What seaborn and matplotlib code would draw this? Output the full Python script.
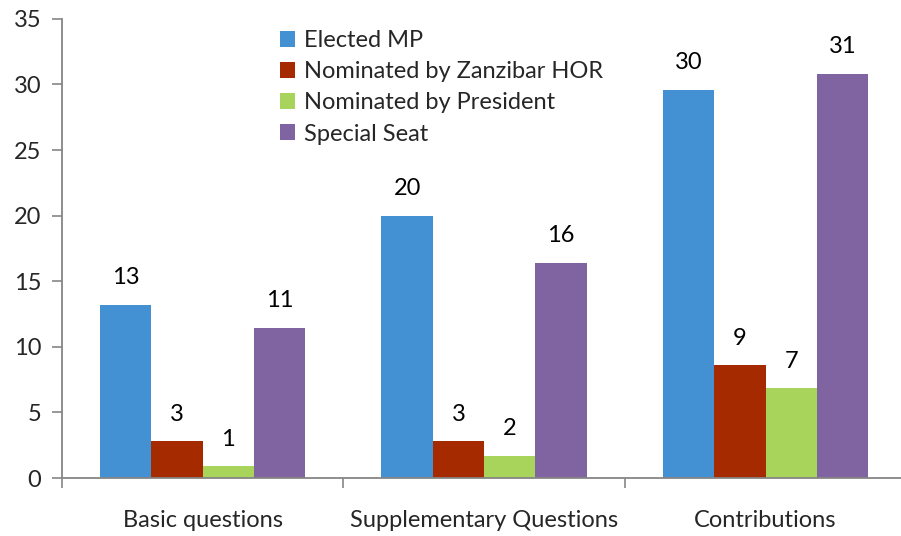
import pandas as pd
import matplotlib.pyplot as plt
import seaborn as sns

categories = ["Basic questions", "Supplementary Questions", "Contributions"]
series = ["Elected MP", "Nominated by Zanzibar HOR", "Nominated by President", "Special Seat"]
elected_mp = [13.2, 20.0, 29.6]
zanzibar_hor = [2.8, 2.8, 8.6]
president = [0.9, 1.7, 6.85]
special_seat = [11.45, 16.4, 30.8]
colors = ["#4391d3", "#a52a00", "#a9d45b", "#8064a2"]

rows = []
for name, vals in zip(series, [elected_mp, zanzibar_hor, president, special_seat]):
    for cat, v in zip(categories, vals):
        rows.append({"category": cat, "series": name, "value": v})
df = pd.DataFrame(rows)

sns.set_style("white")
plt.rcParams["font.family"] = ["Lato", "DejaVu Sans"]

fig = plt.figure(figsize=(9.01, 5.36), dpi=100)
ax = fig.add_axes([0.0688, 0.108, 0.937, 0.857])

sns.barplot(data=df, x="category", y="value", hue="series", order=categories,
            hue_order=series, palette=colors, width=0.73, saturation=1,
            errorbar=None, linewidth=0, ax=ax)

# value labels above bars, rounded like the original
for cont in ax.containers:
    for bar in cont:
        h = bar.get_height()
        ax.annotate(f"{h:.0f}", (bar.get_x() + bar.get_width() / 2, h),
                    xytext=(0, 12), textcoords="offset points",
                    ha="center", va="bottom", fontsize=17, color="#000000")

ax.set_xlim(-0.5, 2.5)
ax.set_ylim(0, 35)
ax.set_yticks(range(0, 36, 5))
ax.set_xlabel("")
ax.set_ylabel("")

for s in ["top", "right"]:
    ax.spines[s].set_visible(False)
for s in ["left", "bottom"]:
    ax.spines[s].set_color("#868686")
    ax.spines[s].set_linewidth(1.3)

ax.tick_params(axis="y", which="major", length=7, width=1.2, color="#868686",
               labelsize=17, pad=8, left=True, direction="out")
ax.tick_params(axis="x", which="major", length=0, labelsize=17, pad=23)
ax.set_xticks([-0.5, 0.5, 1.5, 2.5], minor=True)
ax.tick_params(axis="x", which="minor", length=7, width=1.2, color="#868686",
               bottom=True, direction="out")

leg = ax.legend(loc="upper left", bbox_to_anchor=(0.247, 0.996), frameon=False,
                fontsize=17, handlelength=0.65, handleheight=0.65,
                handletextpad=0.35, labelspacing=0.43, borderaxespad=0)

fig.savefig("out.png", dpi=100)
